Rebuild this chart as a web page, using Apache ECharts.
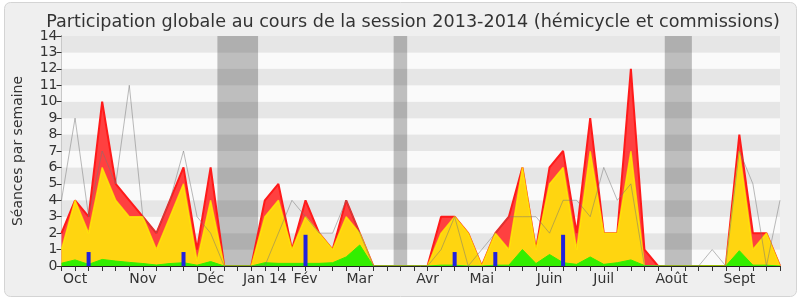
<!DOCTYPE html>
<html><head><meta charset="utf-8">
<script src="https://cdn.jsdelivr.net/npm/echarts/dist/echarts.min.js"></script>
<style>html,body{margin:0;padding:0;background:#fff}#c{width:800px;height:300px}</style>
</head><body><div id="c"></div>
<script>
// Week indices 0..53 (Oct 2013 -> Sept 2014)
const weeks = Array.from({length: 54}, (_, i) => i);
const monthLabels = {1:'Oct', 6:'Nov', 11:'Déc', 15:'Jan 14', 18:'Fév', 22:'Mar', 27:'Avr', 31:'Mai', 36:'Juin', 40:'Juil', 45:'Août', 50:'Sept'};
const yTicks = [0,1,2,3,4,5,6,7,8,9,10,11,12,13,14];
const vacations = [[11.5, 14.5], [24.5, 25.5], [44.5, 46.5]];

const totalVals  = [2,4,3,10,5,4,3,2,4,6,1,6,0,0,0,4,5,1,4,2,1,4,2,0,0,0,0,0,3,3,2,0,2,3,6,1,6,7,2,9,2,2,12,1,0,0,0,0,0,0,8,2,2,0];
const yellowVals = [1,4,2,6,4,3,3,1,3,5,0.3,4,0,0,0,3,4,1,3,2,1,3,2,0,0,0,0,0,2,3,2,0,2,1,6,1,5,6,1,7,2,2,7,0,0,0,0,0,0,0,7,1,2,0];
const greenVals  = [0.17,0.37,0.1,0.4,0.3,0.22,0.15,0.06,0.15,0.2,0.05,0.27,0,0,0,0.2,0.16,0.16,0.16,0.16,0.2,0.55,1.28,0,0,0,0,0,0.05,0.05,0,0,0.05,0.05,1.0,0.15,0.7,0.2,0.1,0.55,0.1,0.2,0.37,0.03,0,0,0,0,0,0,0.93,0.05,0.05,0];
const blueVals   = [0,0,0.85,0,0,0,0,0,0,0.85,0,0,0,0,0,0,0,0,1.9,0,0,0,0,0,0,0,0,0,0,0.85,0,0,0.85,0,0,0,0,1.9,0,0,0,0,0,0,0,0,0,0,0,0,0,0,0,0];
const medianVals = [4,9,3,7,5,11,3,2,4,7,3,2,0,0,0,0,2,4,3,2,2,4,2,0,0,0,0,0,1,3,0,1,2,3,3,3,2,4,4,3,6,4,5,0,0,0,0,0,1,0,7,5,0,4];

const pairs = arr => weeks.map(i => [i, arr[i]]);
const font = 'DejaVu Sans';

const chart = echarts.init(document.getElementById('c'), null, {renderer: 'canvas'});
chart.setOption({
  animation: false,
  textStyle: {fontFamily: font},
  graphic: [{type: 'rect', z: -10, shape: {x: 4.5, y: 2.5, width: 792, height: 294, r: 6},
             style: {fill: '#efefef', stroke: '#d4d4d4', lineWidth: 1}}],
  title: {text: 'Participation globale au cours de la session 2013-2014 (hémicycle et commissions)',
          left: 408, top: 8, textAlign: 'center',
          textStyle: {fontFamily: font, fontSize: 17.6, fontWeight: 'normal', color: '#333'}},
  grid: {left: 61.5, right: 20, top: 36, bottom: 34},
  xAxis: [{
    type: 'value', min: 0, max: 53, interval: 1, z: 10,
    axisLine: {lineStyle: {color: '#222', width: 1}},
    axisTick: {show: true, length: 5, lineStyle: {color: '#333'}},
    splitLine: {show: false},
    axisLabel: {interval: 0, fontSize: 14, color: '#333', margin: 6, fontFamily: font, showMinLabel: true, showMaxLabel: true,
                formatter: v => monthLabels[v] || ''}
  }, {
    type: 'value', position: 'top', min: 0, max: 53, interval: 1,
    axisLine: {show: false}, axisLabel: {show: false}, splitLine: {show: false},
    axisTick: {show: true, inside: true, length: 2, lineStyle: {color: '#333'}}
  }],
  yAxis: [{
    type: 'value', min: 0, max: 14, interval: 1,
    name: 'Séances par semaine', nameLocation: 'middle', nameGap: 36, nameRotate: 90,
    nameTextStyle: {fontSize: 14, color: '#333', fontFamily: font},
    axisLine: {show: true, lineStyle: {color: '#222'}},
    axisTick: {show: true, length: 5, lineStyle: {color: '#333'}},
    axisLabel: {fontSize: 14, color: '#333', margin: 4, fontFamily: font, formatter: v => yTicks.includes(v) ? String(v) : ''},
    splitLine: {show: false},
    splitArea: {show: true, areaStyle: {color: ['#fafafa', '#e6e6e6']}}
  }, {
    type: 'value', position: 'right', min: 0, max: 14, interval: 1,
    axisLine: {show: true, lineStyle: {color: '#c8c8c8'}}, axisTick: {show: false},
    axisLabel: {show: false}, splitLine: {show: false}
  }],
  series: [
    {type: 'line', name: 'total', data: pairs(totalVals), symbol: 'none', z: 2,
     lineStyle: {color: '#ff1a1a', width: 2}, areaStyle: {color: '#ff4040', opacity: 1},
     markArea: {silent: true, itemStyle: {color: 'rgba(0,0,0,0.24)'},
                data: vacations.map(v => [{xAxis: v[0]}, {xAxis: v[1]}])}},
    {type: 'line', name: 'commission', data: pairs(yellowVals), symbol: 'none', z: 3,
     lineStyle: {color: 'rgba(255,240,0,0.75)', width: 1.5}, areaStyle: {color: '#ffd510', opacity: 1}},
    {type: 'line', name: 'hemicycle', data: pairs(greenVals), symbol: 'none', z: 4,
     lineStyle: {color: '#33ee00', width: 1}, areaStyle: {color: '#33ee00', opacity: 1}},
    {type: 'bar', name: 'questions', data: pairs(blueVals), barWidth: 4, z: 5,
     itemStyle: {color: '#2222dd'}},
    {type: 'line', name: 'mediane', data: pairs(medianVals), symbol: 'none', z: 6,
     lineStyle: {color: 'rgba(120,120,120,0.5)', width: 1}}
  ]
});
</script></body></html>
